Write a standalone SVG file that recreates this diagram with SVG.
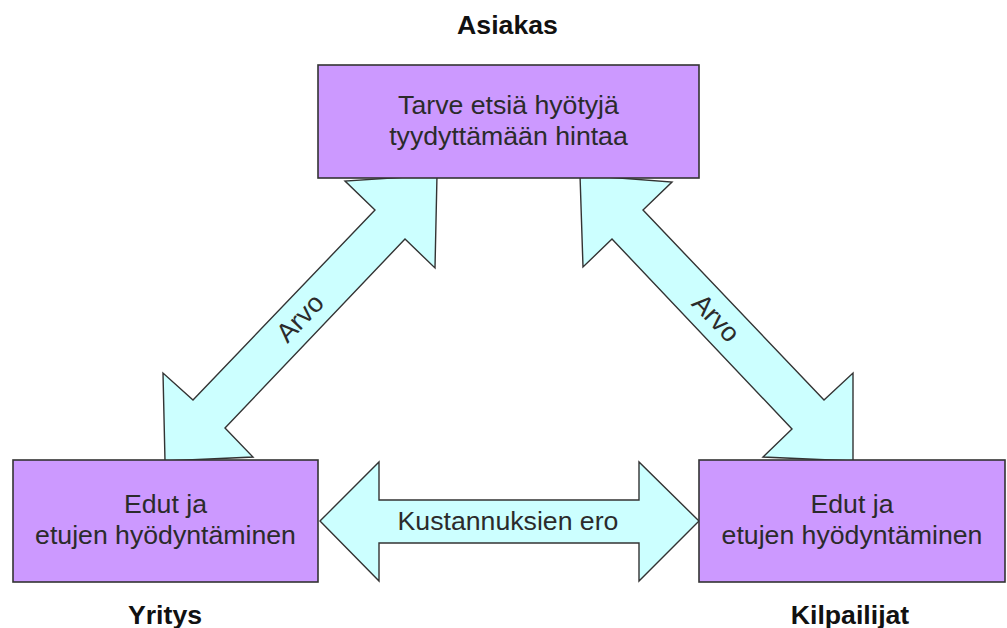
<svg xmlns="http://www.w3.org/2000/svg" width="1007" height="628" viewBox="0 0 1007 628">
<style>
.box{fill:#CC99FF;stroke:#333;stroke-width:1.6}
.arr{fill:#CCFFFF;stroke:#333;stroke-width:1.4;stroke-linejoin:miter}
.t{font-family:"Liberation Sans",Arial,sans-serif;font-size:26.67px;fill:#2b2b2b;text-anchor:middle}
.lbl{font-family:"Liberation Sans",Arial,sans-serif;font-size:26.67px;font-weight:bold;fill:#111;text-anchor:middle}
</style>
<rect width="1007" height="628" fill="#fff"/>
<g id="connectors">
<polygon class="arr" points="437,175 435,268 405,239 225,428 253,457 165,461 163,373 193,400 375,210 345,181"/>
<polygon class="arr" points="580,175 672,182 643,210 824,400 853,373 853,461 763,457 792,429 612,239 583,267"/>
<polygon class="arr" points="320,521 379,462 379,500 639,500 639,462 699,521 639,581 639,543 379,543 379,581"/>
<text class="t" transform="translate(300,318) rotate(-46.3)" dominant-baseline="central">Arvo</text>
<text class="t" transform="translate(716,318) rotate(46.3)" dominant-baseline="central">Arvo</text>
<text class="t" x="508" y="530">Kustannuksien ero</text>
</g>
<g id="asiakas">
<rect class="box" x="318" y="65" width="381" height="113"/>
<text class="t" x="508.5" y="114">Tarve etsiä hyötyjä</text>
<text class="t" x="508.5" y="145">tyydyttämään hintaa</text>
<text class="lbl" x="507.5" y="34">Asiakas</text>
</g>
<g id="yritys">
<rect class="box" x="13" y="460" width="305" height="122"/>
<text class="t" x="165.5" y="513">Edut ja</text>
<text class="t" x="165.5" y="544">etujen hyödyntäminen</text>
<text class="lbl" x="165" y="624">Yritys</text>
</g>
<g id="kilpailijat">
<rect class="box" x="699" y="460" width="306" height="122"/>
<text class="t" x="852" y="513">Edut ja</text>
<text class="t" x="852" y="544">etujen hyödyntäminen</text>
<text class="lbl" x="850" y="624">Kilpailijat</text>
</g>
</svg>
